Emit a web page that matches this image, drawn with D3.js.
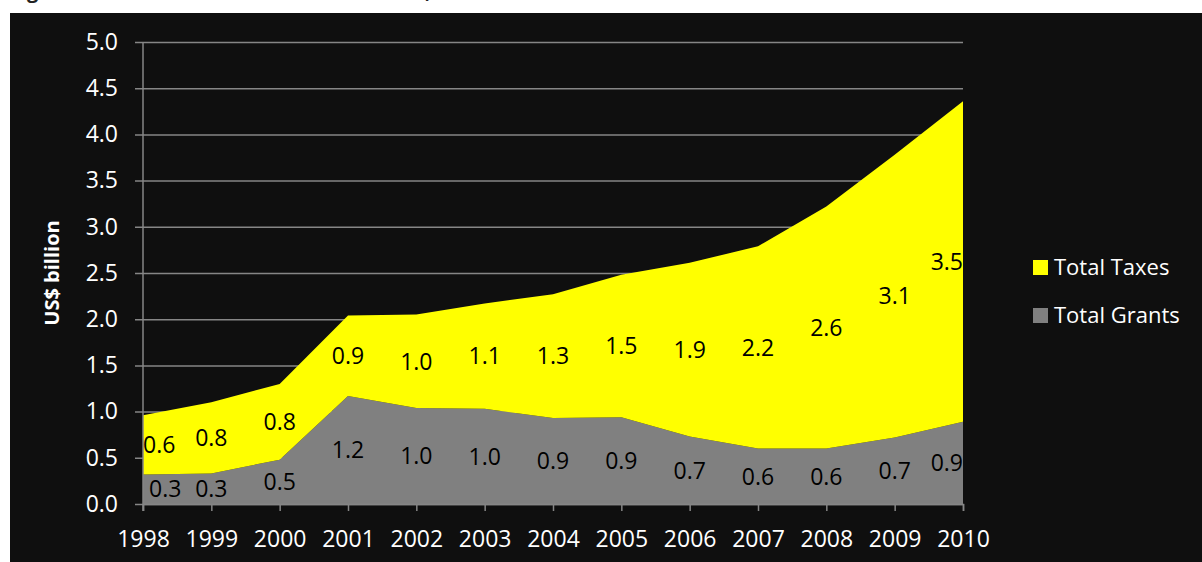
<!DOCTYPE html>
<html>
<head>
<meta charset="utf-8">
<script src="https://cdn.jsdelivr.net/npm/d3@7"></script>
<style>
  html, body { margin: 0; padding: 0; background: #ffffff; }
  svg { display: block; }
  text { font-family: "Open Sans", "Noto Sans", sans-serif; }
</style>
</head>
<body>
<svg id="chart" width="1202" height="562"></svg>
<script>
// Revenue sources, US$ billion
const years  = ["1998","1999","2000","2001","2002","2003","2004","2005","2006","2007","2008","2009","2010"];
const grants = [0.32, 0.33, 0.48, 1.17, 1.04, 1.03, 0.93, 0.94, 0.73, 0.60, 0.60, 0.72, 0.89];
const taxes  = [0.64, 0.77, 0.82, 0.87, 1.01, 1.14, 1.34, 1.54, 1.88, 2.19, 2.62, 3.06, 3.47];
const yTicks = [0, 0.5, 1, 1.5, 2, 2.5, 3, 3.5, 4, 4.5, 5];
const seriesNames  = ["Total Grants", "Total Taxes"];
const seriesColors = ["#808080", "#ffff00"];

const svg = d3.select("#chart");

// heading line above the panel (sits mostly above the page top)
svg.append("text")
  .attr("x", 10).attr("y", -2.5)
  .attr("font-size", 20).attr("font-weight", 700)
  .attr("fill", "#222")
  .text("Figure 5: Sources of Government Revenue, 1998\u20132010");

// dark panel
svg.append("rect")
  .attr("x", 10).attr("y", 13)
  .attr("width", 1192).attr("height", 549)
  .attr("fill", "#0f0f0f");

const plot = { left: 143, right: 963, top: 42, bottom: 504 };

const x = d3.scalePoint().domain(years).range([plot.left, plot.right]);
const y = d3.scaleLinear().domain([0, 5]).range([plot.bottom, plot.top]);

const rows = years.map((yr, i) => ({ year: yr, grants: grants[i], taxes: taxes[i] }));
const stacked = d3.stack().keys(["grants", "taxes"])(rows);

// horizontal gridlines with outward ticks
const gridAxis = d3.axisLeft(y)
  .tickValues(yTicks)
  .tickSize(-(plot.right - plot.left))
  .tickFormat(d3.format(".1f"));

const gy = svg.append("g")
  .attr("transform", `translate(${plot.left},0)`)
  .call(gridAxis);
gy.select(".domain").remove();
gy.selectAll(".tick line")
  .attr("x1", -8)
  .attr("stroke", "#868686")
  .attr("stroke-width", 1.5);
gy.selectAll(".tick text")
  .attr("x", -25)
  .attr("fill", "#ffffff")
  .attr("font-size", 23)
  .attr("font-family", "'Open Sans', sans-serif");

// stacked areas
const area = d3.area()
  .x(d => x(d.data.year))
  .y0(d => y(d[0]))
  .y1(d => y(d[1]));

svg.append("g")
  .selectAll("path")
  .data(stacked)
  .join("path")
  .attr("d", area)
  .attr("fill", (d, i) => seriesColors[i]);

// y axis line
svg.append("line")
  .attr("x1", plot.left).attr("x2", plot.left)
  .attr("y1", plot.top).attr("y2", plot.bottom + 7)
  .attr("stroke", "#868686").attr("stroke-width", 1.5);

// x axis
const xAxis = d3.axisBottom(x).tickSize(7).tickPadding(20);
const gx = svg.append("g")
  .attr("transform", `translate(0,${plot.bottom})`)
  .call(xAxis);
gx.select(".domain")
  .attr("stroke", "#868686").attr("stroke-width", 1.5);
gx.selectAll(".tick line")
  .attr("stroke", "#868686").attr("stroke-width", 1.5);
gx.selectAll(".tick text")
  .attr("fill", "#ffffff")
  .attr("font-size", 23)
  .attr("font-family", "'Open Sans', sans-serif");

// value labels centred in each band, kept inside the plot
const fmt = d3.format(".1f");
const labelG = svg.append("g");
stacked.forEach(layer => {
  layer.forEach(d => {
    const val = d[1] - d[0];
    const t = labelG.append("text")
      .attr("x", x(d.data.year))
      .attr("y", y((d[0] + d[1]) / 2))
      .attr("dy", "0.36em")
      .attr("text-anchor", "middle")
      .attr("font-size", 23)
      .attr("fill", "#000")
      .text(fmt(val));
    const w = t.node().getComputedTextLength();
    const cx = x(d.data.year);
    if (cx - w / 2 < plot.left) t.attr("x", plot.left + w / 2 + (layer.key === "grants" ? 6 : 0));
    if (cx + w / 2 > plot.right) t.attr("x", plot.right - w / 2);
  });
});

// y axis title
svg.append("text")
  .attr("transform", `translate(59,${(plot.top + plot.bottom) / 2}) rotate(-90)`)
  .attr("text-anchor", "middle")
  .attr("font-size", 20)
  .attr("font-weight", 700)
  .attr("fill", "#ffffff")
  .text("US$ billion");

// legend (taxes listed first)
const legendItems = [
  { name: seriesNames[1], color: seriesColors[1] },
  { name: seriesNames[0], color: seriesColors[0] }
];
const lg = svg.append("g").attr("transform", "translate(1033,260)");
legendItems.forEach((it, i) => {
  const g = lg.append("g").attr("transform", `translate(0,${i * 48})`);
  g.append("rect").attr("width", 15).attr("height", 15).attr("fill", it.color);
  g.append("text")
    .attr("x", 21).attr("y", 7.5).attr("dy", "0.36em")
    .attr("font-size", 22)
    .attr("fill", "#ffffff")
    .text(it.name);
});
</script>
</body>
</html>
